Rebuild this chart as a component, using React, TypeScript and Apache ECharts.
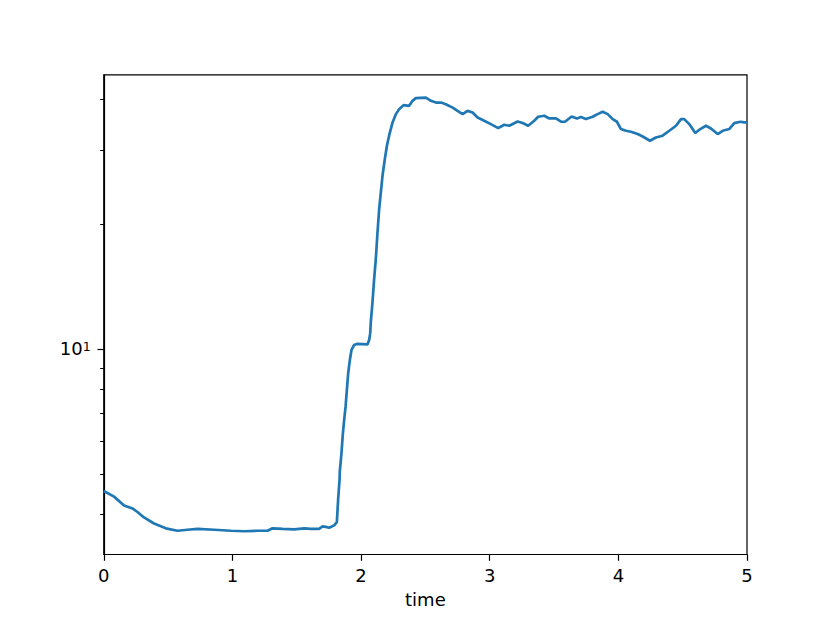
import React, { useEffect, useRef } from "react";
import * as echarts from "echarts";

const times = [
  0, 0.08, 0.158, 0.223, 0.262, 0.313, 0.391, 0.482, 0.573, 0.651, 0.729, 0.858, 0.988, 1.091, 1.195, 1.273,
  1.312, 1.39, 1.48, 1.558, 1.61, 1.674, 1.701, 1.726, 1.752, 1.791, 1.812, 1.822, 1.833, 1.835, 1.848, 1.858,
  1.869, 1.88, 1.89, 1.9, 1.913, 1.926, 1.946, 1.967, 2.051, 2.063, 2.071, 2.076, 2.089, 2.102, 2.115, 2.128,
  2.141, 2.154, 2.167, 2.185, 2.201, 2.218, 2.245, 2.271, 2.296, 2.33, 2.374, 2.4, 2.426, 2.504, 2.543, 2.582,
  2.621, 2.659, 2.712, 2.75, 2.789, 2.828, 2.867, 2.906, 2.957, 3.009, 3.066, 3.113, 3.152, 3.217, 3.256, 3.299,
  3.346, 3.377, 3.424, 3.463, 3.515, 3.554, 3.585, 3.637, 3.678, 3.709, 3.748, 3.8, 3.839, 3.878, 3.917, 3.956,
  3.989, 4.02, 4.059, 4.098, 4.15, 4.189, 4.246, 4.292, 4.344, 4.396, 4.448, 4.487, 4.512, 4.551, 4.598, 4.637,
  4.681, 4.72, 4.772, 4.811, 4.862, 4.901, 4.948, 4.979, 5.0,
];

const values = [
  4.55, 4.41, 4.2, 4.13, 4.05, 3.93, 3.8, 3.7, 3.65, 3.67, 3.69, 3.67, 3.65, 3.64, 3.65, 3.65,
  3.7, 3.69, 3.68, 3.7, 3.69, 3.69, 3.74, 3.73, 3.71, 3.76, 3.83, 4.35, 4.85, 5.08, 5.62, 6.22,
  6.76, 7.27, 7.98, 8.74, 9.41, 9.95, 10.22, 10.28, 10.26, 10.51, 10.9, 11.62, 12.98, 14.77, 16.5, 19.11,
  21.75, 23.84, 26.15, 28.67, 30.85, 32.61, 35.09, 36.75, 37.78, 38.63, 38.48, 39.56, 40.15, 40.28, 39.56, 39.18,
  39.18, 38.82, 38.1, 37.42, 36.75, 37.42, 37.09, 36.06, 35.42, 34.77, 34.01, 34.64, 34.45, 35.28, 34.97, 34.45,
  35.42, 36.22, 36.42, 35.88, 35.88, 35.23, 35.23, 36.27, 35.88, 36.15, 35.75, 36.22, 36.75, 37.22, 36.75, 35.75,
  35.23, 33.83, 33.51, 33.33, 32.91, 32.47, 31.71, 32.29, 32.61, 33.51, 34.45, 35.75, 35.75, 34.77, 33.09, 33.83,
  34.45, 33.94, 32.91, 33.51, 33.83, 34.97, 35.23, 35.1, 35.1,
];

const xTicks = [0, 1, 2, 3, 4, 5];
const yMajorTicks = [10];
const yMinorTicks = [4, 5, 6, 7, 8, 9, 20, 30, 40];
const yRange = [3.2, 45.7];

const FONT = "DejaVu Sans";

export default function App() {
  const ref = useRef<HTMLDivElement>(null);
  useEffect(() => {
    if (!ref.current) return;
    const chart = echarts.init(ref.current, null, { renderer: "svg" });
    const lg = (v: number) => Math.log10(v);
    const yMin = lg(yRange[0]);
    const yMax = lg(yRange[1]);
    const data = times.map((t, i) => [t, lg(values[i])]);
    chart.setOption({
      animation: false,
      grid: {
        left: 103.75,
        top: 74.8,
        width: 643.25,
        height: 479.7,
        show: true,
        borderColor: "#000",
        borderWidth: 1.2,
        backgroundColor: "transparent",
      },
      xAxis: {
        type: "value",
        min: xTicks[0],
        max: xTicks[xTicks.length - 1],
        interval: 1,
        name: "time",
        nameLocation: "middle",
        nameGap: 36,
        nameTextStyle: { color: "#000", fontSize: 18, fontFamily: FONT },
        axisLine: { show: true, lineStyle: { color: "#000", width: 1.2 } },
        axisTick: { show: true, inside: false, length: 6.3, lineStyle: { color: "#000", width: 1.2 } },
        axisLabel: { color: "#000", fontSize: 18, fontFamily: FONT, margin: 12 },
        splitLine: { show: false },
      },
      yAxis: [
        {
          type: "value",
          min: yMin,
          max: yMax,
          position: "left",
          axisLine: { show: true, lineStyle: { color: "#000", width: 1.2 } },
          axisTick: {
            show: true,
            length: 6.3,
            customValues: yMajorTicks.map(lg),
            lineStyle: { color: "#000", width: 1.2 },
          },
          axisLabel: {
            show: true,
            customValues: yMajorTicks.map(lg),
            formatter: (v: number) => "{b|10}{s|" + Math.round(v) + "}",
            color: "#000",
            fontSize: 18,
            fontFamily: FONT,
            margin: 13,
            rich: {
              b: { fontSize: 18, fontFamily: FONT, color: "#000", lineHeight: 18 },
              s: { fontSize: 12.6, fontFamily: FONT, color: "#000", lineHeight: 13, verticalAlign: "top" },
            },
          },
          splitLine: { show: false },
        },
        {
          type: "value",
          min: yMin,
          max: yMax,
          position: "left",
          axisLine: { show: false },
          axisTick: {
            show: true,
            length: 3.6,
            customValues: yMinorTicks.map(lg),
            lineStyle: { color: "#000", width: 1 },
          },
          axisLabel: { show: false },
          splitLine: { show: false },
        },
      ],
      series: [
        {
          type: "line",
          data,
          xAxisIndex: 0,
          yAxisIndex: 0,
          showSymbol: false,
          symbol: "none",
          lineStyle: { color: "#1f77b4", width: 2.7 },
          silent: true,
        },
      ],
    });
    return () => chart.dispose();
  }, []);
  return (
    <div
      ref={ref}
      style={{ position: "fixed", left: 0, top: 0, width: 830, height: 623, background: "#fff" }}
    />
  );
}
